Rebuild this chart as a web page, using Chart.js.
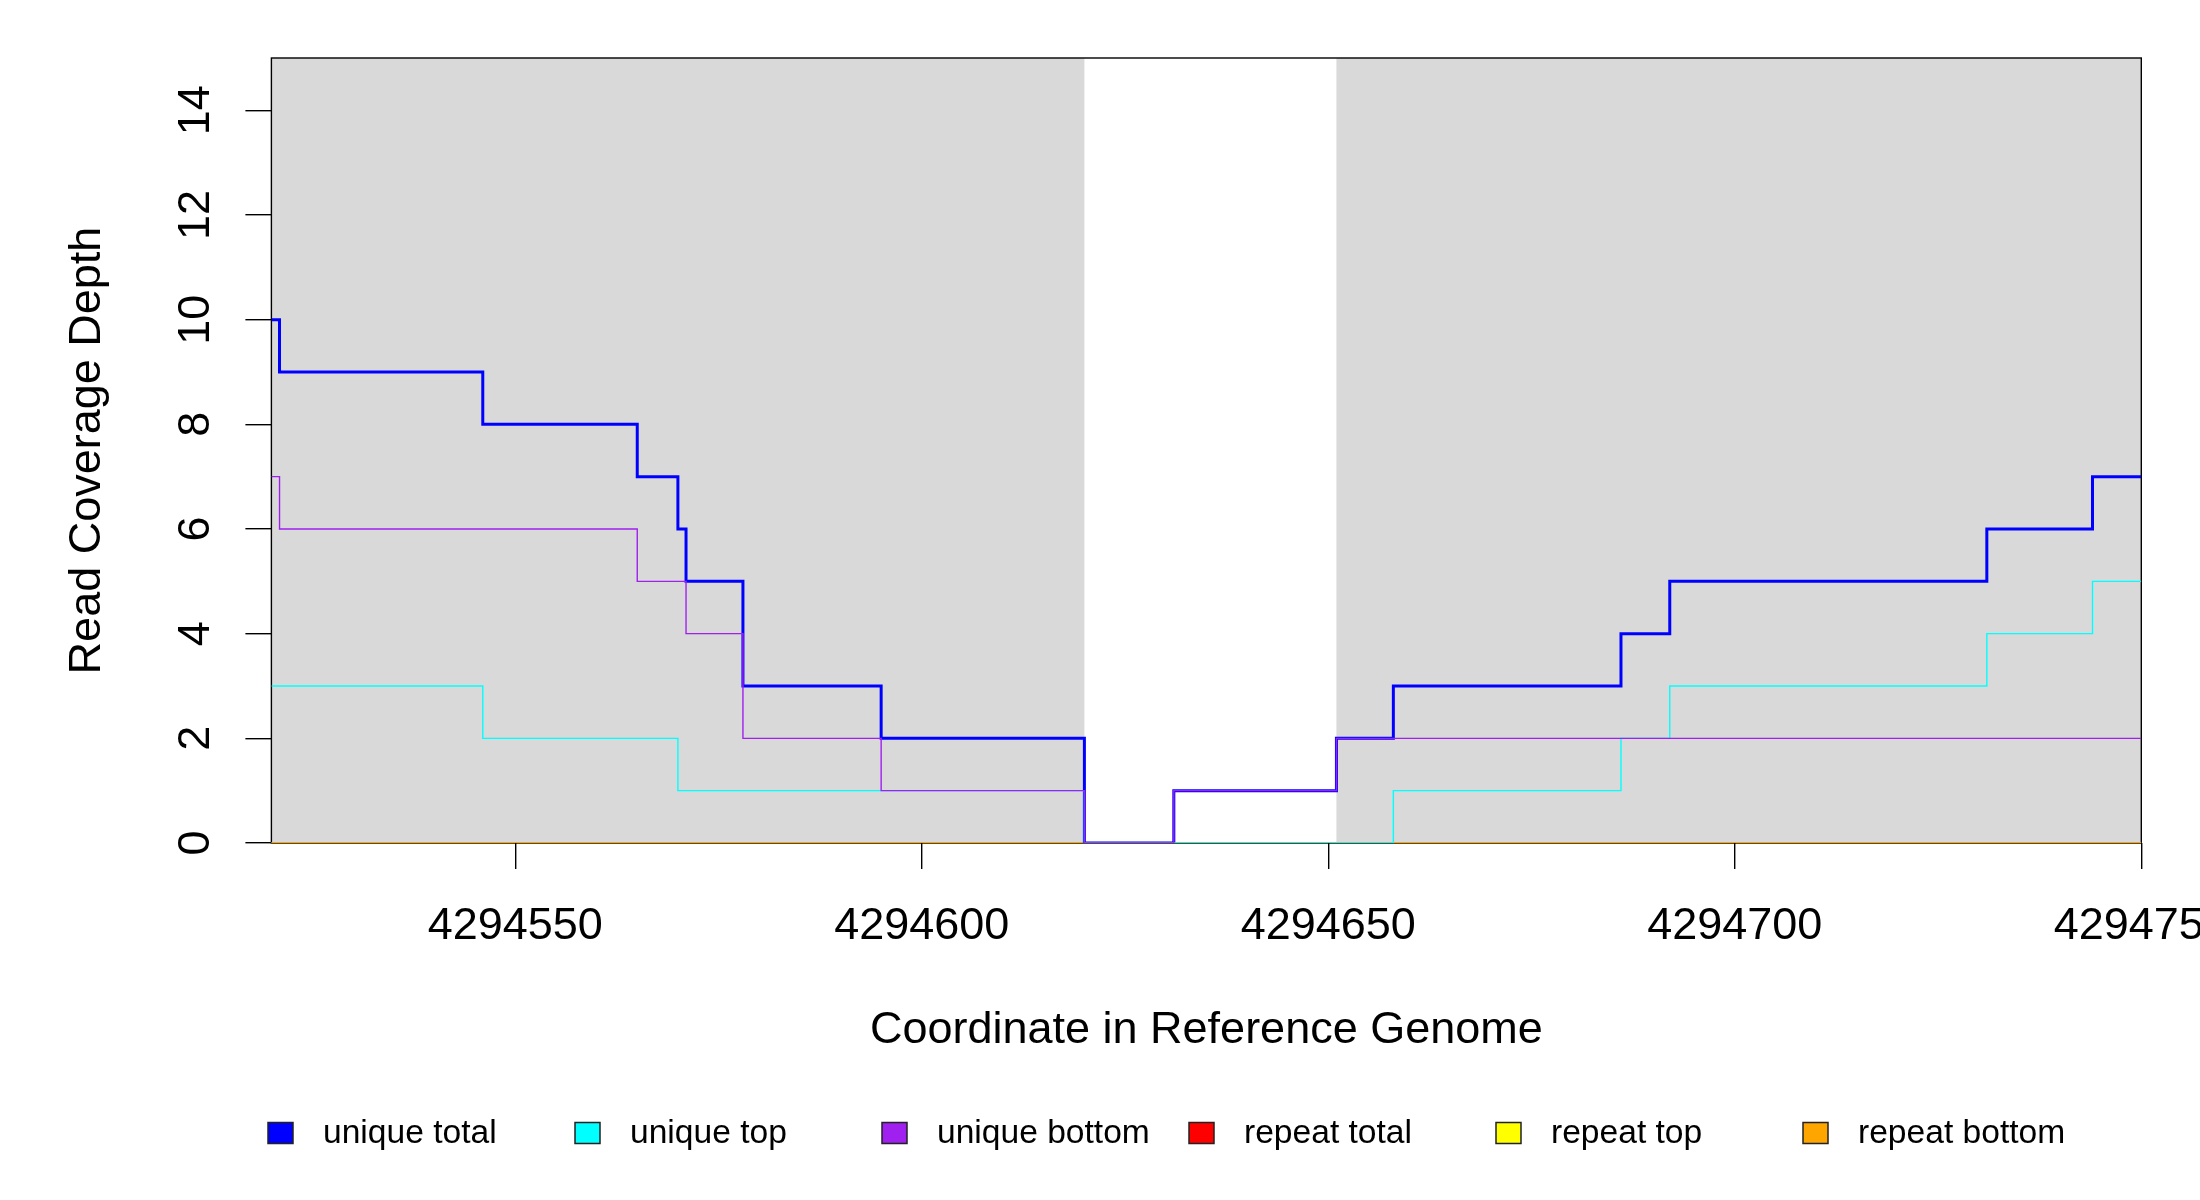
<!DOCTYPE html>
<html>
<head>
<meta charset="utf-8">
<script src="https://cdn.jsdelivr.net/npm/chart.js@4.4.1/dist/chart.umd.min.js"></script>
<style>
  html, body { margin: 0; padding: 0; background: #ffffff; }
  #wrap { width: 2200px; height: 1200px; }
</style>
</head>
<body>
<div id="wrap"><canvas id="c" width="2200" height="1200" style="width:2200px;height:1200px"></canvas></div>
<script>
// ---- data ----
const positions    = [4294520, 4294521, 4294546, 4294565, 4294570, 4294571, 4294578, 4294595, 4294620, 4294631, 4294651, 4294658, 4294686, 4294692, 4294731, 4294744, 4294750];
const uniqueTotal  = [10, 9, 8, 7, 6, 5, 3, 2, 0, 1, 2, 3, 4, 5, 6, 7, 7];
const uniqueTop    = [3, 3, 2, 2, 1, 1, 1, 1, 0, 0, 0, 1, 2, 3, 4, 5, 5];
const uniqueBottom = [7, 6, 6, 5, 5, 4, 2, 1, 0, 1, 2, 2, 2, 2, 2, 2, 2];
const repeatTotal  = [0, 0, 0, 0, 0, 0, 0, 0, 0, 0, 0, 0, 0, 0, 0, 0, 0];
const repeatTop    = [0, 0, 0, 0, 0, 0, 0, 0, 0, 0, 0, 0, 0, 0, 0, 0, 0];
const repeatBottom = [0, 0, 0, 0, 0, 0, 0, 0, 0, 0, 0, 0, 0, 0, 0, 0, 0];
const seriesNames  = ['unique total', 'unique top', 'unique bottom', 'repeat total', 'repeat top', 'repeat bottom'];
const seriesColors = ['#0000FF', '#00FFFF', '#A020F0', '#FF0000', '#FFFF00', '#FFA500'];
const xTicks = [4294550, 4294600, 4294650, 4294700, 4294750];
const yTicks = [0, 2, 4, 6, 8, 10, 12, 14];
const xRange = [4294520, 4294750];
const yRange = [0, 15];
const shadedRegions = [[4294520, 4294620], [4294651, 4294750]];
const xTitle = 'Coordinate in Reference Genome';
const yTitle = 'Read Coverage Depth';

// ---- styles ----
const FONT = '"Liberation Sans", Arial, sans-serif';
const seriesValues = [uniqueTotal, uniqueTop, uniqueBottom, repeatTotal, repeatTop, repeatBottom];
const seriesWidths = [3, 1.4, 1.4, 1.4, 1.4, 2.2];
const seriesOrder  = [3, 2, 1, 6, 5, 4];

const datasets = seriesNames.map((name, i) => ({
  label: name,
  data: positions.map((p, j) => ({ x: p, y: seriesValues[i][j] })),
  borderColor: seriesColors[i],
  backgroundColor: seriesColors[i],
  borderWidth: seriesWidths[i],
  stepped: 'before',
  pointRadius: 0,
  fill: false,
  order: seriesOrder[i]
}));

const decor = {
  id: 'decor',
  beforeDraw(chart) {
    const ctx = chart.ctx;
    ctx.save();
    ctx.fillStyle = '#ffffff';
    ctx.fillRect(0, 0, chart.width, chart.height);
    ctx.restore();
  },
  beforeDatasetsDraw(chart) {
    const { ctx, chartArea, scales } = chart;
    ctx.save();
    ctx.fillStyle = '#D9D9D9';
    shadedRegions.forEach(([a, b]) => {
      const x1 = scales.x.getPixelForValue(a);
      const x2 = scales.x.getPixelForValue(b);
      ctx.fillRect(x1, chartArea.top, x2 - x1, chartArea.bottom - chartArea.top);
    });
    ctx.strokeStyle = '#000000';
    ctx.lineWidth = 1.4;
    ctx.strokeRect(chartArea.left, chartArea.top, chartArea.right - chartArea.left, chartArea.bottom - chartArea.top);
    ctx.restore();
  },
  afterDraw(chart) {
    const { ctx, scales } = chart;
    ctx.save();
    ctx.fillStyle = '#000000';
    ctx.font = '45px ' + FONT;
    // x tick labels
    ctx.textAlign = 'center';
    ctx.textBaseline = 'alphabetic';
    xTicks.forEach(v => {
      ctx.fillText(String(v), scales.x.getPixelForValue(v), 939);
    });
    // y tick labels (rotated)
    yTicks.forEach(v => {
      ctx.save();
      ctx.translate(209, scales.y.getPixelForValue(v));
      ctx.rotate(-Math.PI / 2);
      ctx.fillText(String(v), 0, 0);
      ctx.restore();
    });
    // legend
    ctx.font = '33.6px ' + FONT;
    ctx.textAlign = 'left';
    seriesNames.forEach((name, i) => {
      const x0 = 268 + i * 307;
      ctx.fillStyle = seriesColors[i];
      ctx.fillRect(x0, 1122.5, 25, 21);
      ctx.strokeStyle = '#222222';
      ctx.lineWidth = 1.5;
      ctx.strokeRect(x0, 1122.5, 25, 21);
      ctx.fillStyle = '#000000';
      ctx.fillText(name, x0 + 55, 1143);
    });
    ctx.restore();
  }
};

new Chart(document.getElementById('c'), {
  type: 'line',
  data: { datasets },
  plugins: [decor],
  options: {
    responsive: false,
    devicePixelRatio: 1,
    animation: false,
    layout: { autoPadding: false, padding: { left: 60.6, right: 58.7, top: 58, bottom: 142.6 } },
    plugins: { legend: { display: false }, tooltip: { enabled: false } },
    scales: {
      x: {
        type: 'linear',
        min: xRange[0],
        max: xRange[1],
        afterBuildTicks: s => { s.ticks = xTicks.map(v => ({ value: v })); },
        afterFit: s => { s.height = 214.4; },
        ticks: { display: false },
        grid: { drawOnChartArea: false, drawTicks: true, tickLength: 26, color: '#000000', lineWidth: 1.4 },
        border: { display: false },
        title: { display: true, text: xTitle, color: '#000000', font: { family: FONT, size: 45 }, padding: { top: 0, bottom: 0 } }
      },
      y: {
        type: 'linear',
        min: yRange[0],
        max: yRange[1],
        afterBuildTicks: s => { s.ticks = yTicks.map(v => ({ value: v })); },
        afterFit: s => { s.width = 210.8; },
        ticks: { display: false },
        grid: { drawOnChartArea: false, drawTicks: true, tickLength: 26, color: '#000000', lineWidth: 1.4 },
        border: { display: false },
        title: { display: true, text: yTitle, color: '#000000', font: { family: FONT, size: 45 }, padding: { top: 0, bottom: 0 } }
      }
    }
  }
});
</script>
</body>
</html>
